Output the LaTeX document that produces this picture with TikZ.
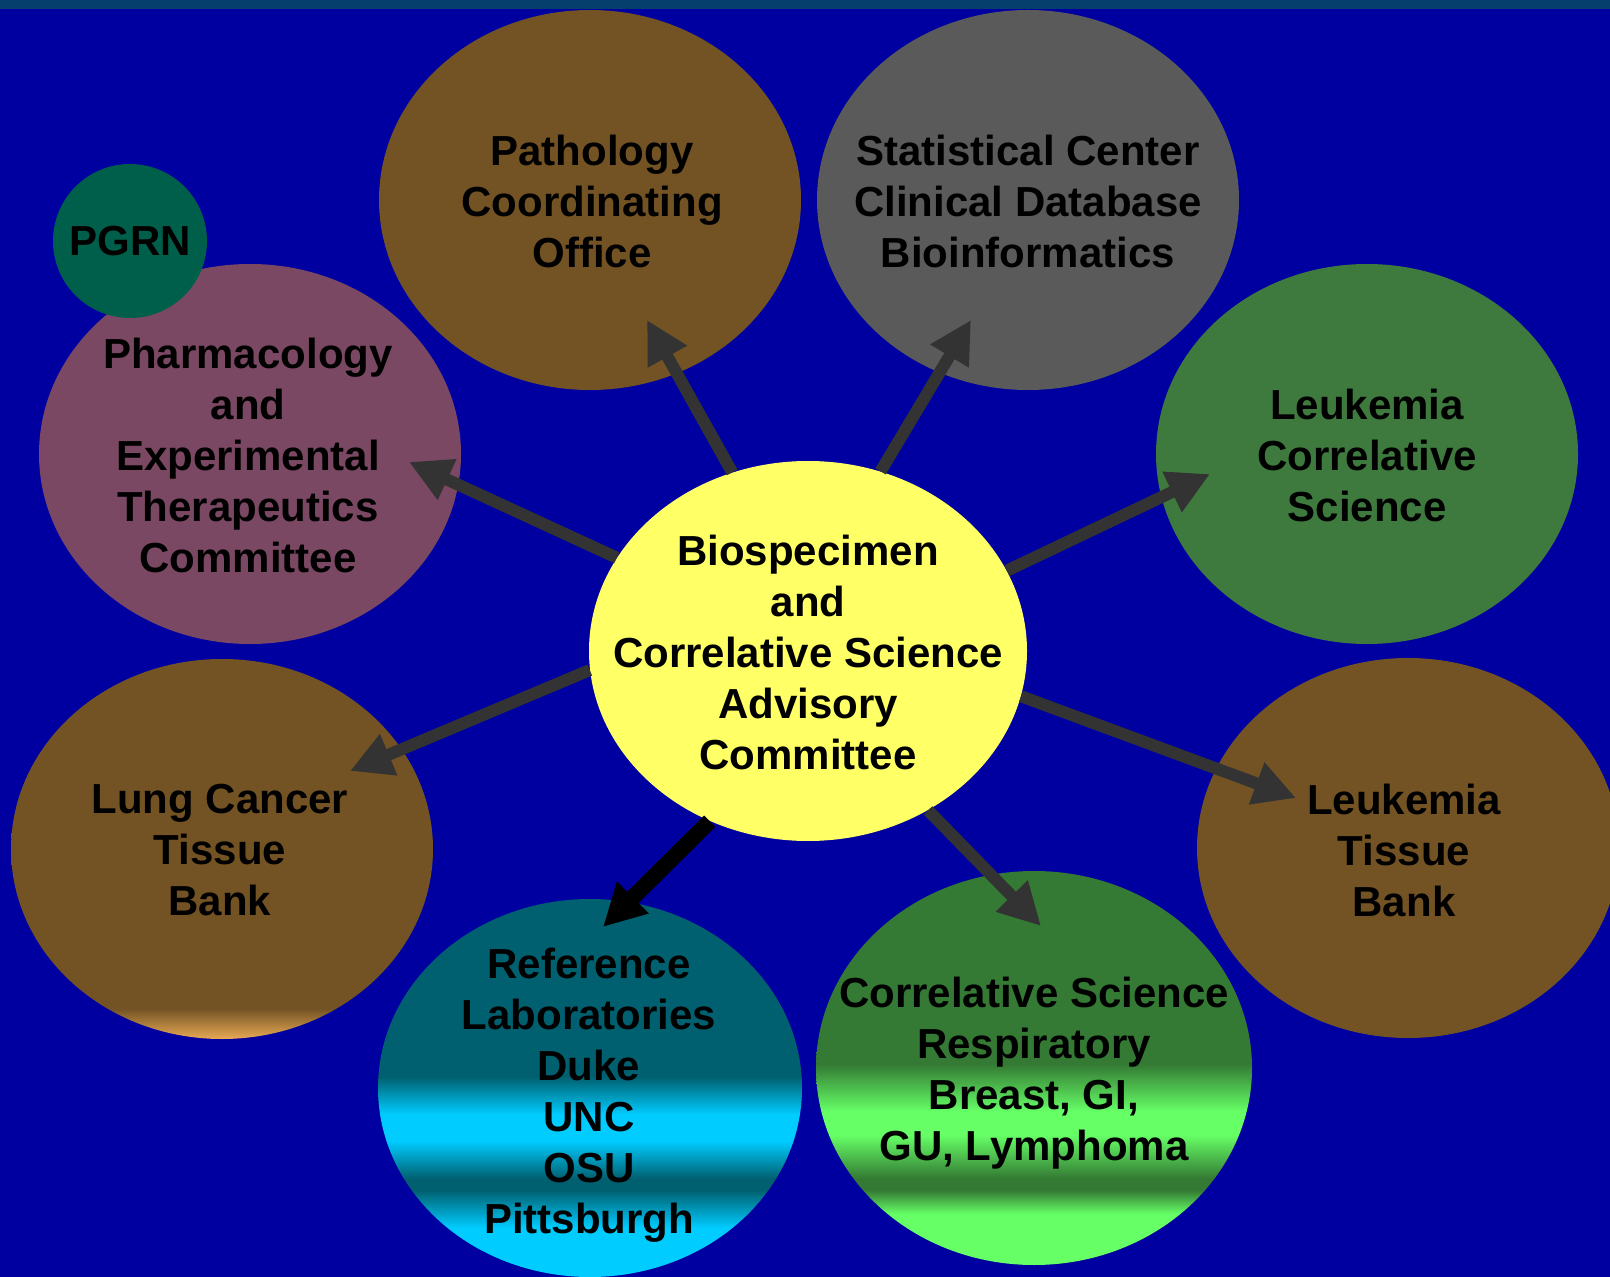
\documentclass[tikz,border=0pt]{standalone}
\usepackage{fontspec}
\setmainfont{Liberation Sans}
\usetikzlibrary{arrows.meta,shapes.geometric}

\definecolor{bgblue}{HTML}{0000A0}
\definecolor{barblue}{HTML}{043F6E}
\definecolor{brownc}{HTML}{735324}
\definecolor{grayc}{HTML}{5A5A5A}
\definecolor{mauvec}{HTML}{7A4862}
\definecolor{pgrngreen}{HTML}{005F4A}
\definecolor{leukgreen}{HTML}{3E7A3E}
\definecolor{yellowc}{HTML}{FFFF66}
\definecolor{tealc}{HTML}{006070}
\definecolor{cyanc}{HTML}{00CCFF}
\definecolor{darkgreenc}{HTML}{347A34}
\definecolor{lightgreenc}{HTML}{66FF66}
\definecolor{orangec}{HTML}{E8A955}
\definecolor{arrowgray}{HTML}{333333}

% banded fills for the lower ellipses (path spans 25bp..75bp)
\pgfdeclareverticalshading{refbands}{100bp}{color(0bp)=(cyanc); color(31.5bp)=(cyanc); color(36.5bp)=(tealc); color(38bp)=(tealc); color(43bp)=(cyanc); color(46.5bp)=(cyanc); color(51.5bp)=(tealc); color(100bp)=(tealc)}
\pgfdeclareverticalshading{csbands}{100bp}{color(0bp)=(lightgreenc); color(31.5bp)=(lightgreenc); color(34.5bp)=(darkgreenc); color(36bp)=(darkgreenc); color(41.5bp)=(lightgreenc); color(44.5bp)=(lightgreenc); color(50.5bp)=(darkgreenc); color(100bp)=(darkgreenc)}
\pgfdeclareverticalshading{lungshade}{100bp}{color(0bp)=(orangec); color(25bp)=(orangec); color(29bp)=(brownc); color(100bp)=(brownc)}

\begin{document}
\begin{tikzpicture}[x=0.5pt,y=-0.5pt,
  blob/.style={ellipse, inner sep=0pt, draw=none, minimum width=211pt, minimum height=190pt},
  lbl/.style={align=center, text=black, inner sep=0pt,
    font=\fontsize{21}{25.5}\selectfont\bfseries},
  link/.style={draw=arrowgray, line width=6pt, -{Triangle[length=21pt,width=21pt]}},
]
\useasboundingbox (0,0) rectangle (1610,1277);
\fill[bgblue] (0,0) rectangle (1610,1277);
\fill[barblue] (0,0) rectangle (1610,9);

% outer ellipses
\node[blob, fill=brownc] (patho) at (590,200) {};
\node[blob, fill=grayc] (stat) at (1028,200) {};
\node[blob, fill=mauvec] (pharm) at (250,454) {};
\node[blob, fill=leukgreen] (leukcs) at (1367,454) {};
\node[blob, shade, shading=lungshade] (lung) at (222,849) {};
\node[blob, fill=brownc] (leukbank) at (1408,848) {};
\node[blob, shade, shading=refbands, minimum width=212pt, minimum height=189pt] (reflab) at (590,1088) {};
\node[blob, shade, shading=csbands, minimum width=218pt, minimum height=197pt] (csresp) at (1034,1068) {};
\node[circle, fill=pgrngreen, inner sep=0pt, minimum size=77pt] (pgrn) at (130,241) {};

% central committee
\node[blob, fill=yellowc, minimum width=219pt, minimum height=190pt] (core) at (808,651) {};

% arrow tips
\coordinate (tPatho) at (647,320);
\coordinate (tStat) at (971,320);
\coordinate (tPharm) at (409,462);
\coordinate (tLeukcs) at (1210,474);
\coordinate (tLung) at (350,771);
\coordinate (tLeukbank) at (1296,798);
\coordinate (tRef) at (603,927);
\coordinate (tCs) at (1041,926);

\draw[link] (core.113.5) -- (tPatho);
\draw[link] (core.68.5) -- (tStat);
\draw[link] (core.154.6) -- (tPharm);
\draw[link] (core.22) -- (tLeukcs);
\draw[link] (core.-175.3) -- (tLung);
\draw[link] (core.-12.9) -- (tLeukbank);
\draw[link, draw=black, line width=8pt] (core.-120.5) -- (tRef);
\draw[link] (core.-53.7) -- (tCs);

% labels
\node[lbl] (lpatho) at (592,201) {Pathology\\Coordinating\\Office};
\node[lbl] (lstat) at (1028,201) {Statistical Center\\Clinical Database\\Bioinformatics};
\node[lbl] (lpharm) at (248,455) {Pharmacology\\and\\Experimental\\Therapeutics\\Committee};
\node[lbl] (lpgrn) at (130,241) {PGRN};
\node[lbl] (lleukcs) at (1367,455) {Leukemia\\Correlative\\Science};
\node[lbl] (lcore) at (808,652) {Biospecimen\\and\\Correlative Science\\Advisory\\Committee};
\node[lbl] (llung) at (220,850) {Lung Cancer\\Tissue\\Bank};
\node[lbl] (lleukbank) at (1404,850) {Leukemia\\Tissue\\Bank};
\node[lbl] (lref) at (589,1095) {Reference\\Laboratories\\Duke\\UNC\\OSU\\Pittsburgh};
\node[lbl] (lcs) at (1034,1073) {Correlative Science\\Respiratory\\Breast, GI,\\GU, Lymphoma};
\end{tikzpicture}
\end{document}
